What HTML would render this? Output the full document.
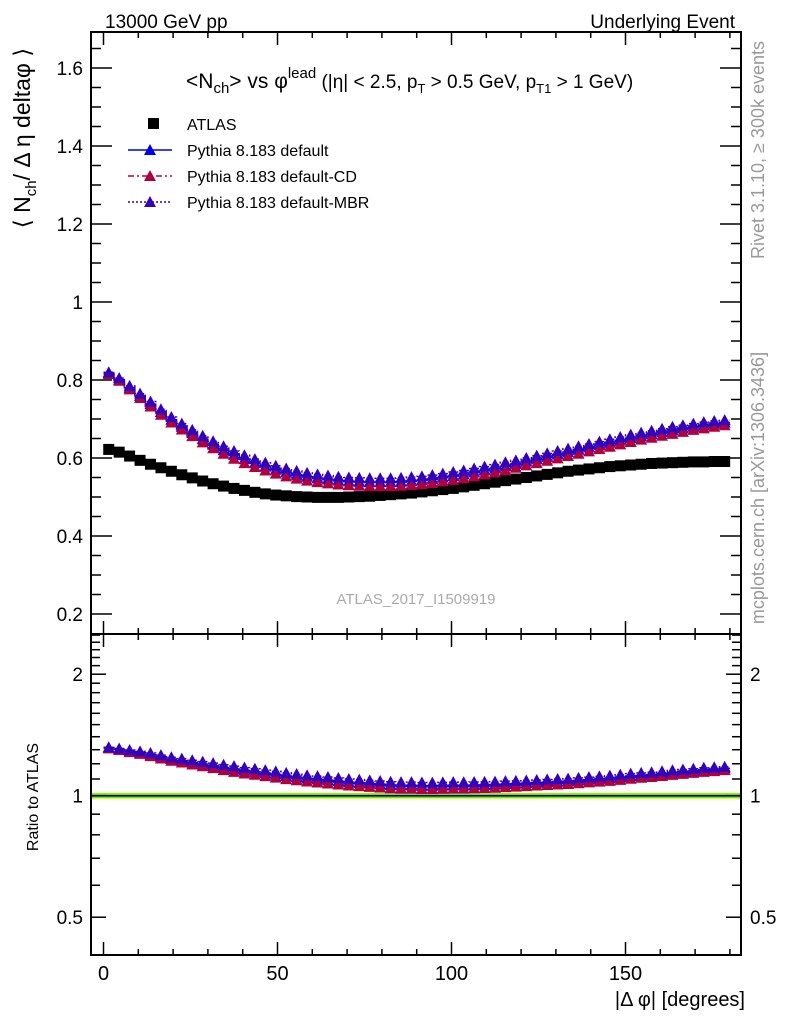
<!DOCTYPE html>
<html><head><meta charset="utf-8"><style>
html,body{margin:0;padding:0;background:#fff;}
svg{display:block;font-family:"Liberation Sans",sans-serif;}
</style></head><body>
<svg id="chart" width="786" height="1024" viewBox="0 0 786 1024" xmlns="http://www.w3.org/2000/svg">
<text x="105" y="28" font-size="19">13000 GeV pp</text>
<text x="735" y="28" font-size="19" text-anchor="end">Underlying Event</text>
<text transform="translate(764,150) rotate(-90)" font-size="18" fill="#999" text-anchor="middle">Rivet 3.1.10, ≥ 300k events</text>
<text transform="translate(764,488) rotate(-90)" font-size="18" fill="#999" text-anchor="middle">mcplots.cern.ch [arXiv:1306.3436]</text>
<text x="416" y="604" font-size="15" fill="#aaa" text-anchor="middle">ATLAS_2017_I1509919</text>
<text transform="translate(30,138) rotate(-90)" font-size="23" text-anchor="middle">⟨ N<tspan font-size="15" dy="6">ch</tspan><tspan dy="-6">/ Δ η deltaφ ⟩</tspan></text>
<text transform="translate(38,797) rotate(-90)" font-size="16" text-anchor="middle">Ratio to ATLAS</text>
<text x="745" y="1006" font-size="20" text-anchor="end">|Δ φ| [degrees]</text>
<text x="186" y="88" font-size="21">&lt;N<tspan font-size="15" dy="5">ch</tspan><tspan dy="-5">&gt; vs φ</tspan><tspan font-size="15" dy="-10">lead</tspan><tspan font-size="19" dy="10"> (|η| &lt; 2.5, p</tspan><tspan font-size="13" dy="5">T</tspan><tspan font-size="19" dy="-5"> &gt; 0.5 GeV, p</tspan><tspan font-size="13" dy="5">T1</tspan><tspan font-size="19" dy="-5"> &gt; 1 GeV)</tspan></text>
<g id="legend"></g>
<g id="axes"></g>
<g id="marks"></g>
</svg>
<script>
const xCenters=[1.5,4.5,7.5,10.5,13.5,16.5,19.5,22.5,25.5,28.5,31.5,34.5,37.5,40.5,43.5,46.5,49.5,52.5,55.5,58.5,61.5,64.5,67.5,70.5,73.5,76.5,79.5,82.5,85.5,88.5,91.5,94.5,97.5,100.5,103.5,106.5,109.5,112.5,115.5,118.5,121.5,124.5,127.5,130.5,133.5,136.5,139.5,142.5,145.5,148.5,151.5,154.5,157.5,160.5,163.5,166.5,169.5,172.5,175.5,178.5];
const atlas=[0.622,0.615,0.605,0.594,0.584,0.575,0.566,0.557,0.549,0.541,0.534,0.528,0.522,0.517,0.512,0.508,0.505,0.503,0.501,0.500,0.499,0.499,0.499,0.500,0.501,0.502,0.504,0.506,0.508,0.510,0.513,0.516,0.519,0.522,0.526,0.530,0.534,0.538,0.542,0.546,0.550,0.554,0.558,0.562,0.566,0.569,0.572,0.575,0.578,0.580,0.582,0.584,0.586,0.587,0.588,0.589,0.590,0.590,0.591,0.591];
const pyDefault=[0.818,0.801,0.780,0.759,0.738,0.718,0.698,0.680,0.664,0.648,0.634,0.620,0.608,0.597,0.587,0.578,0.570,0.563,0.557,0.552,0.548,0.545,0.542,0.540,0.539,0.538,0.538,0.538,0.539,0.541,0.543,0.546,0.550,0.554,0.558,0.563,0.568,0.573,0.579,0.585,0.591,0.597,0.603,0.609,0.615,0.621,0.627,0.633,0.639,0.645,0.651,0.656,0.661,0.666,0.671,0.676,0.680,0.684,0.688,0.691];
const pyCD=[0.815,0.798,0.776,0.754,0.732,0.711,0.691,0.673,0.656,0.640,0.625,0.611,0.598,0.587,0.577,0.568,0.560,0.553,0.547,0.542,0.538,0.535,0.532,0.530,0.529,0.528,0.528,0.528,0.529,0.531,0.533,0.536,0.540,0.544,0.548,0.553,0.558,0.563,0.569,0.575,0.581,0.587,0.593,0.599,0.605,0.611,0.617,0.623,0.629,0.635,0.641,0.647,0.652,0.657,0.662,0.667,0.672,0.676,0.680,0.684];
const pyMBR=[0.820,0.805,0.785,0.765,0.745,0.725,0.705,0.688,0.672,0.657,0.643,0.630,0.618,0.607,0.597,0.588,0.580,0.573,0.567,0.562,0.558,0.555,0.552,0.550,0.549,0.548,0.548,0.548,0.549,0.551,0.553,0.556,0.560,0.564,0.568,0.573,0.578,0.583,0.589,0.594,0.600,0.606,0.612,0.618,0.624,0.630,0.636,0.642,0.648,0.654,0.660,0.665,0.670,0.675,0.680,0.684,0.688,0.692,0.695,0.697];
const xTicks=[0,50,100,150];
const mainTicks=[0.2,0.4,0.6,0.8,1,1.2,1.4,1.6];
const ratioTicks=[0.5,1,2];

const NS="http://www.w3.org/2000/svg";
const L=91,R=741,T=32,MB=634,RB=955;
const X=v=>103.5+v*3.48;
const Y=v=>614-(v-0.2)*390;
const YR=v=>795.7-Math.log2(v)*121.5;
const axes=document.getElementById('axes'),marks=document.getElementById('marks'),leg=document.getElementById('legend');
function mk(p,tag,at){const e=document.createElementNS(NS,tag);for(const k in at)e.setAttribute(k,at[k]);p.appendChild(e);return e;}
function line(p,x1,y1,x2,y2,s,w){return mk(p,'line',{x1,y1,x2,y2,stroke:s||'#000','stroke-width':w||2});}
function txt(p,x,y,t,sz,anc){const e=mk(p,'text',{x,y,'font-size':sz,'text-anchor':anc||'start'});e.textContent=t;return e;}

let band=mk(axes,'rect',{x:L,y:YR(1.022),width:R-L,height:YR(0.978)-YR(1.022),fill:'#ffff88'});


line(axes,L,YR(1),R,YR(1),'#66dd44',5);
line(axes,L,YR(1),R,YR(1),'#000',1.5);

let f1=mk(axes,'rect',{x:L,y:T,width:R-L,height:MB-T,fill:'none',stroke:'#000','stroke-width':2});


let f2=mk(axes,'rect',{x:L,y:MB,width:R-L,height:RB-MB,fill:'none',stroke:'#000','stroke-width':2});



for(let v=0;v<=180;v+=10){const maj=v%50===0;const len=maj?13:6;const x=X(v);
 for(const [t,b] of [[T,MB],[MB,RB]]){line(axes,x,b,x,b-len,'#000',1.5);line(axes,x,t,x,t+len,'#000',1.5);}}
for(const v of xTicks){const t=txt(axes,X(v),980,String(v),20,'middle');
 
 }
for(let i=0;i<=30;i++){const v=0.2+i*0.05;if(Y(v)<T)break;const maj=i%4===0;const len=maj?21:10;const y=Y(v);
 line(axes,L,y,L+len,y,'#000',1.5);line(axes,R,y,R-len,y,'#000',1.5);}
for(const v of mainTicks){const t=txt(axes,83,Y(v)+7,String(v),19,'end');
 
 }
const minor=[0.5,0.6,0.7,0.8,0.9,1,1.1,1.2,1.3,1.4,1.5,1.6,1.7,1.8,1.9,2,2.1,2.2,2.3,2.4,2.5];
for(const v of minor){const y=YR(v);if(y<MB||y>RB)continue;const maj=ratioTicks.includes(v);const len=maj?15:9;
 line(axes,L,y,L+len,y,'#000',1.5);line(axes,R,y,R-len,y,'#000',1.5);}
for(const v of ratioTicks){const y=YR(v)+7;const s=v===0.5?'0.5':String(v);
 const a=txt(axes,83,y,s,19,'end');
 
 
 const b=txt(axes,750,y,s,19,'start');
 
 }

function tri(p,x,y,c){return mk(p,'polygon',{points:`${x-6},${y+5} ${x+6},${y+5} ${x},${y-6}`,fill:c});}
const series=[{name:'pythia-default',vals:pyDefault,c:'#0000ee',dash:''},{name:'pythia-default-cd',vals:pyCD,c:'#b00040',dash:'6,3,2,3'},{name:'pythia-default-mbr',vals:pyMBR,c:'#3300bb',dash:'2,2'}];

const ga=mk(marks,'g',{});


atlas.forEach((v,i)=>{const r=mk(ga,'rect',{x:X(xCenters[i])-5.5,y:Y(v)-5.5,width:11,height:11,fill:'#000'});
 
 });

for(const s of series){
 const g=mk(marks,'g',{});
 
 
 const gr=mk(marks,'g',{});
 
 
 let d='',dr='';
 s.vals.forEach((v,i)=>{const x=X(xCenters[i]);d+=(i?'L':'M')+(x-5.2)+','+Y(v)+'H'+(x+5.2);dr+=(i?'L':'M')+(x-5.2)+','+YR(v/atlas[i])+'H'+(x+5.2);});
 mk(g,'path',{d,fill:'none',stroke:s.c,'stroke-width':1.5,'stroke-dasharray':s.dash});
 mk(gr,'path',{d:dr,fill:'none',stroke:s.c,'stroke-width':1.5,'stroke-dasharray':s.dash});
 s.vals.forEach((v,i)=>{const x=X(xCenters[i]);
  const a=tri(g,x,Y(v),s.c);
  
  
  const b=tri(gr,x,YR(v/atlas[i]),s.c);
  
  });
}

const legItems=[{t:'ATLAS',c:'#000',sq:true},{t:'Pythia 8.183 default',c:'#0000ee',dash:''},{t:'Pythia 8.183 default-CD',c:'#b00040',dash:'6,3,2,3'},{t:'Pythia 8.183 default-MBR',c:'#3300bb',dash:'2,2'}];
legItems.forEach((it,i)=>{const y=124+i*26;const g=mk(leg,'g',{});
 
 
 if(it.sq){mk(g,'rect',{x:148,y:y-6,width:11,height:11,fill:'#000'});}
 else{mk(g,'line',{x1:128,y1:y,x2:172,y2:y,stroke:it.c,'stroke-width':1.5,'stroke-dasharray':it.dash});tri(g,150,y,it.c);}
 txt(g,187,y+6,it.t,16,'start');});
</script>
</body></html>
